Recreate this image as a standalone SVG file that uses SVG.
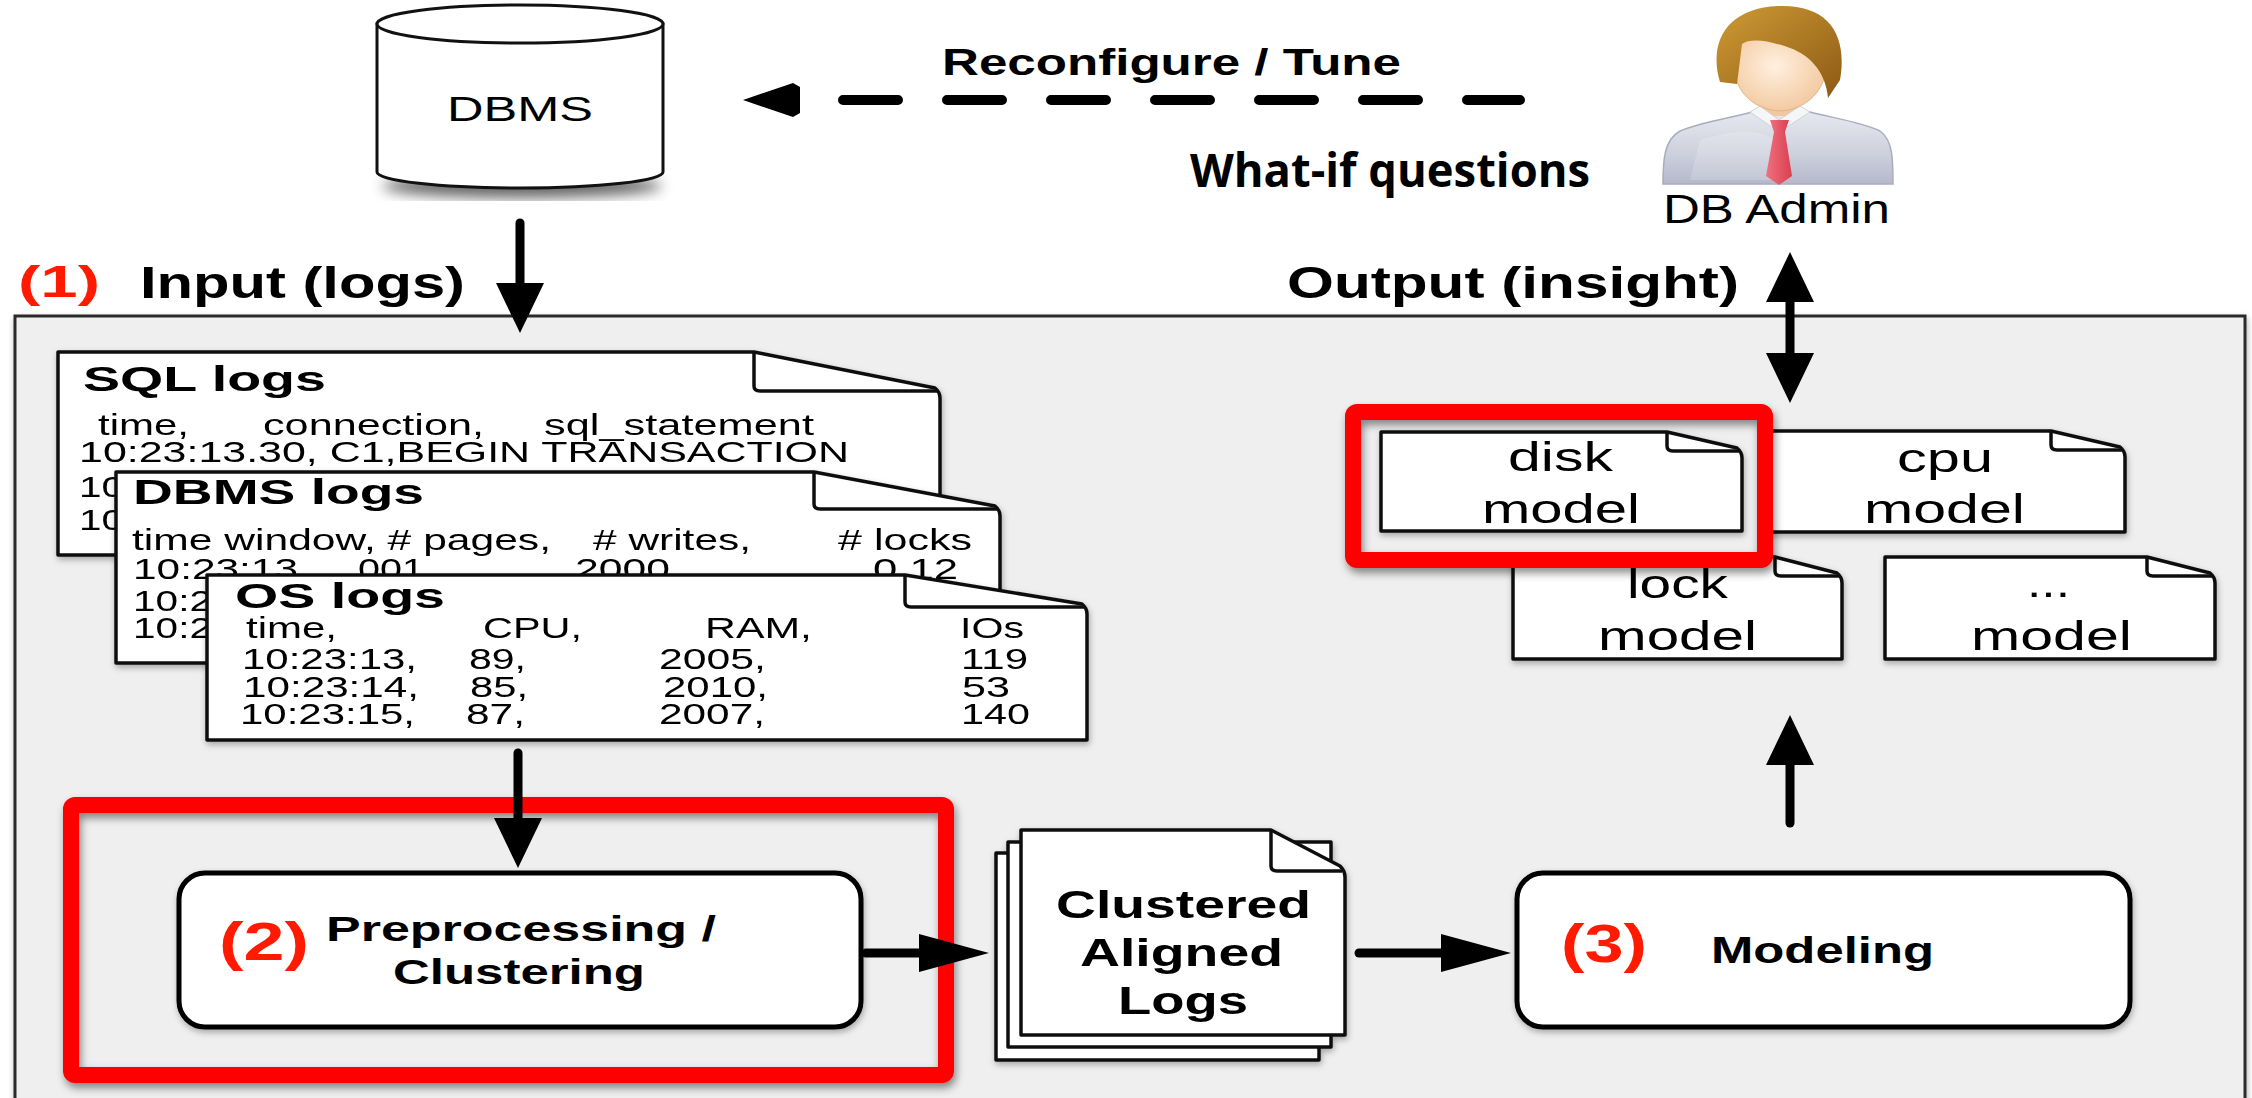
<svg xmlns="http://www.w3.org/2000/svg" width="2252" height="1098" viewBox="0 0 2252 1098">
  <style>
    text { font-family: "Liberation Sans", Arial, Helvetica, sans-serif; fill: #000; }
    .b { font-weight: bold; }
    .red { fill: #ff1a00; }
    .doc { fill: #fff; stroke: #111; stroke-width: 3.5; stroke-linejoin: round; }
    .fold { fill: none; stroke: #111; stroke-width: 3.5; stroke-linejoin: round; }
    .box { fill: #fff; stroke: #000; stroke-width: 5; }
    .hl { fill: none; stroke: #ff0000; stroke-width: 16; stroke-linejoin: round; }
    .shaft { stroke: #000; stroke-width: 9; fill: none; stroke-linecap: round; }
    .wq { font-family: "Open Sans", "Liberation Sans", sans-serif; font-weight: bold; }
  </style>
  <defs>
    <filter id="shadow" x="-10%" y="-10%" width="120%" height="130%">
      <feDropShadow dx="2" dy="5" stdDeviation="4" flood-color="#000" flood-opacity="0.45"/>
    </filter>
    <filter id="softshadow" x="-5%" y="-5%" width="110%" height="120%">
      <feDropShadow dx="1" dy="3" stdDeviation="3" flood-color="#000" flood-opacity="0.3"/>
    </filter>
    <filter id="blur8"><feGaussianBlur stdDeviation="7"/></filter>
    <marker id="vhead" markerUnits="userSpaceOnUse" viewBox="0 0 50 48" markerWidth="50" markerHeight="48" refX="30" refY="24" orient="auto-start-reverse">
      <path d="M0,0 L50,24 L0,48 Z" fill="#000"/>
    </marker>
    <marker id="hhead" markerUnits="userSpaceOnUse" viewBox="0 0 70 38" markerWidth="70" markerHeight="38" refX="50" refY="19" orient="auto">
      <path d="M0,0 L70,19 L0,38 Z" fill="#000"/>
    </marker>
    <linearGradient id="shirt" x1="0" y1="0" x2="0" y2="1">
      <stop offset="0" stop-color="#e6e8f0"/>
      <stop offset="0.55" stop-color="#cfd2de"/>
      <stop offset="1" stop-color="#b4b8ca"/>
    </linearGradient>
    <linearGradient id="hair" x1="0" y1="0" x2="1" y2="1">
      <stop offset="0" stop-color="#cf9b35"/>
      <stop offset="1" stop-color="#8c5a14"/>
    </linearGradient>
    <radialGradient id="skin" cx="0.45" cy="0.45" r="0.6">
      <stop offset="0" stop-color="#fff0e0"/>
      <stop offset="1" stop-color="#f2c79c"/>
    </radialGradient>
    <linearGradient id="tie" x1="0" y1="0" x2="1" y2="0">
      <stop offset="0" stop-color="#f07080"/>
      <stop offset="1" stop-color="#d9404f"/>
    </linearGradient>
  </defs>

  <rect width="2252" height="1098" fill="#fff"/>

  <!-- main system frame -->
  <g id="system-frame">
    <rect x="15" y="316" width="2230" height="820" fill="#efefef" stroke="#2a2a2a" stroke-width="3" filter="url(#softshadow)"/>
    <text x="18" y="297" class="b red" font-size="44" textLength="82" lengthAdjust="spacingAndGlyphs">(1)</text>
    <text x="140" y="298" class="b" font-size="44" textLength="325" lengthAdjust="spacingAndGlyphs">Input (logs)</text>
    <text x="1287" y="298" class="b" font-size="44" textLength="452" lengthAdjust="spacingAndGlyphs">Output (insight)</text>
  </g>

  <!-- database -->
  <g id="dbms">
    <ellipse cx="522" cy="186" rx="140" ry="12" fill="#000" opacity="0.6" filter="url(#blur8)"/>
    <path d="M377,24 V172 A143,16 0 0 0 663,172 V24 Z" fill="#fff" stroke="#111" stroke-width="3"/>
    <ellipse cx="520" cy="24" rx="143" ry="19" fill="#fff" stroke="#111" stroke-width="3"/>
    <text x="447" y="121" font-size="35" textLength="146" lengthAdjust="spacingAndGlyphs">DBMS</text>
  </g>

  <!-- administrator -->
  <g id="db-admin">
    <path d="M1663,184 C1663,160 1664,140 1680,131 C1700,122 1735,117 1752,112 L1810,112 C1828,117 1862,122 1880,131 C1893,140 1893,160 1893,184 Z" fill="url(#shirt)" stroke="#a9adbd" stroke-width="1.5"/>
    <path d="M1700,140 C1740,128 1760,130 1775,140 L1775,180 L1690,180 Z" fill="#fff" opacity="0.18"/>
    <rect x="1760" y="92" width="40" height="24" fill="#f2c79c"/>
    <path d="M1750,112 L1779,132 L1810,112 L1800,106 L1779,120 L1760,106 Z" fill="#f6f6f8" stroke="#d0d2da" stroke-width="1"/>
    <path d="M1733,52 C1731,82 1744,100 1762,107 Q1780,115 1798,107 C1816,99 1829,82 1827,52 C1824,22 1738,22 1733,52 Z" fill="url(#skin)" stroke="#e0b58c" stroke-width="1"/>
    <path d="M1720,82 C1708,42 1727,8 1778,6 C1828,4 1848,34 1840,80 L1828,98 C1826,74 1812,56 1790,48 C1768,40 1750,38 1742,44 L1737,84 Z" fill="url(#hair)"/>
    <path d="M1770,120 L1789,120 L1785,132 L1774,132 Z" fill="url(#tie)"/>
    <path d="M1774,132 L1785,132 L1792,176 L1779,185 L1766,176 Z" fill="url(#tie)"/>
    <text x="1663" y="223" font-size="40" textLength="227" lengthAdjust="spacingAndGlyphs">DB Admin</text>
  </g>

  <!-- log documents -->
  <g id="sql-logs" filter="url(#softshadow)">
    <path class="doc" d="M58,352 H754 L935,388 Q940,392 940,398 V555 H58 Z"/>
    <path class="fold" d="M754,352 V386 Q754,391 760,391 H937"/>
    <text x="83" y="391" class="b" font-size="35" textLength="243" lengthAdjust="spacingAndGlyphs">SQL logs</text>
    <g font-size="30">
      <text x="98" y="435" textLength="91" lengthAdjust="spacingAndGlyphs">time,</text>
      <text x="263" y="435" textLength="221" lengthAdjust="spacingAndGlyphs">connection,</text>
      <text x="544" y="435" textLength="270" lengthAdjust="spacingAndGlyphs">sql_statement</text>
      <text x="79" y="462" textLength="770" lengthAdjust="spacingAndGlyphs">10:23:13.30, C1,BEGIN TRANSACTION</text>
      <text x="79" y="497" textLength="45" lengthAdjust="spacingAndGlyphs">10</text>
      <text x="79" y="530" textLength="45" lengthAdjust="spacingAndGlyphs">10</text>
    </g>
  </g>

  <g id="dbms-logs" filter="url(#softshadow)">
    <path class="doc" d="M116,472 H814 L995,506 Q1000,510 1000,516 V663 H116 Z"/>
    <path class="fold" d="M814,472 V504 Q814,509 820,509 H997"/>
    <text x="133" y="504" class="b" font-size="35" textLength="291" lengthAdjust="spacingAndGlyphs">DBMS logs</text>
    <g font-size="30">
      <text x="132" y="550" textLength="419" lengthAdjust="spacingAndGlyphs">time window, # pages,</text>
      <text x="593" y="550" textLength="158" lengthAdjust="spacingAndGlyphs"># writes,</text>
      <text x="838" y="550" textLength="134" lengthAdjust="spacingAndGlyphs"># locks</text>
      <text x="133" y="579" textLength="165" lengthAdjust="spacingAndGlyphs">10:23:13</text>
      <text x="358" y="579" textLength="66" lengthAdjust="spacingAndGlyphs">001</text>
      <text x="575" y="579" textLength="95" lengthAdjust="spacingAndGlyphs">2000</text>
      <text x="873" y="579" textLength="85" lengthAdjust="spacingAndGlyphs">0.12</text>
      <text x="133" y="611" textLength="79" lengthAdjust="spacingAndGlyphs">10:2</text>
      <text x="133" y="638" textLength="79" lengthAdjust="spacingAndGlyphs">10:2</text>
    </g>
  </g>

  <g id="os-logs" filter="url(#softshadow)">
    <path class="doc" d="M207,575 H905 L1082,604 Q1087,608 1087,614 V740 H207 Z"/>
    <path class="fold" d="M905,575 V602 Q905,607 911,607 H1084"/>
    <text x="235" y="608" class="b" font-size="35" textLength="210" lengthAdjust="spacingAndGlyphs">OS logs</text>
    <g font-size="29">
      <text x="246" y="638" textLength="91" lengthAdjust="spacingAndGlyphs">time,</text>
      <text x="483" y="638" textLength="99" lengthAdjust="spacingAndGlyphs">CPU,</text>
      <text x="705" y="638" textLength="107" lengthAdjust="spacingAndGlyphs">RAM,</text>
      <text x="960" y="638" textLength="64" lengthAdjust="spacingAndGlyphs">IOs</text>
      <text x="242" y="669" textLength="175" lengthAdjust="spacingAndGlyphs">10:23:13,</text>
      <text x="469" y="669" textLength="57" lengthAdjust="spacingAndGlyphs">89,</text>
      <text x="659" y="669" textLength="107" lengthAdjust="spacingAndGlyphs">2005,</text>
      <text x="961" y="669" textLength="67" lengthAdjust="spacingAndGlyphs">119</text>
      <text x="243" y="697" textLength="176" lengthAdjust="spacingAndGlyphs">10:23:14,</text>
      <text x="470" y="697" textLength="58" lengthAdjust="spacingAndGlyphs">85,</text>
      <text x="663" y="697" textLength="105" lengthAdjust="spacingAndGlyphs">2010,</text>
      <text x="962" y="697" textLength="48" lengthAdjust="spacingAndGlyphs">53</text>
      <text x="240" y="724" textLength="175" lengthAdjust="spacingAndGlyphs">10:23:15,</text>
      <text x="466" y="724" textLength="59" lengthAdjust="spacingAndGlyphs">87,</text>
      <text x="659" y="724" textLength="106" lengthAdjust="spacingAndGlyphs">2007,</text>
      <text x="961" y="724" textLength="69" lengthAdjust="spacingAndGlyphs">140</text>
    </g>
  </g>

  <!-- model documents -->
  <g id="cpu-model" filter="url(#softshadow)">
    <path class="doc" d="M1765,431 H2051 L2120,447 Q2125,451 2125,457 V532 H1765 Z"/>
    <path class="fold" d="M2051,431 V445 Q2051,450 2057,450 H2122"/>
    <text x="1897" y="472" font-size="41" textLength="96" lengthAdjust="spacingAndGlyphs">cpu</text>
    <text x="1864" y="523" font-size="41" textLength="161" lengthAdjust="spacingAndGlyphs">model</text>
  </g>
  <g id="lock-model" filter="url(#softshadow)">
    <path class="doc" d="M1513,557 H1775 L1837,573 Q1842,577 1842,583 V659 H1513 Z"/>
    <path class="fold" d="M1775,557 V571 Q1775,576 1781,576 H1839"/>
    <text x="1627" y="598" font-size="41" textLength="101" lengthAdjust="spacingAndGlyphs">lock</text>
    <text x="1598" y="650" font-size="41" textLength="159" lengthAdjust="spacingAndGlyphs">model</text>
  </g>
  <g id="other-model" filter="url(#softshadow)">
    <path class="doc" d="M1885,557 H2147 L2210,573 Q2215,577 2215,583 V659 H1885 Z"/>
    <path class="fold" d="M2147,557 V571 Q2147,576 2153,576 H2212"/>
    <text x="2027" y="597" font-size="41" textLength="43" lengthAdjust="spacingAndGlyphs">...</text>
    <text x="1971" y="650" font-size="41" textLength="161" lengthAdjust="spacingAndGlyphs">model</text>
  </g>
  <g id="disk-model" filter="url(#softshadow)">
    <path class="doc" d="M1381,432 H1667 L1737,448 Q1742,452 1742,458 V531 H1381 Z"/>
    <path class="fold" d="M1667,432 V446 Q1667,451 1673,451 H1739"/>
    <text x="1508" y="471" font-size="41" textLength="105" lengthAdjust="spacingAndGlyphs">disk</text>
    <text x="1482" y="523" font-size="41" textLength="158" lengthAdjust="spacingAndGlyphs">model</text>
  </g>

  <!-- process steps -->
  <g id="preprocessing">
    <rect class="box" x="179" y="873" width="682" height="154" rx="26" filter="url(#softshadow)"/>
    <text x="219" y="960" class="b red" font-size="54" textLength="90" lengthAdjust="spacingAndGlyphs">(2)</text>
    <text x="326" y="941" class="b" font-size="35" textLength="390" lengthAdjust="spacingAndGlyphs">Preprocessing /</text>
    <text x="393" y="984" class="b" font-size="35" textLength="252" lengthAdjust="spacingAndGlyphs">Clustering</text>
  </g>

  <g id="clustered-logs" filter="url(#softshadow)">
    <rect class="doc" x="996" y="853" width="323" height="207"/>
    <rect class="doc" x="1008" y="842" width="323" height="205"/>
    <path class="doc" d="M1021,830 H1271 L1340,866 Q1345,871 1345,877 V1035 H1021 Z"/>
    <path class="fold" d="M1271,830 V866 Q1271,871 1277,871 H1342"/>
    <text x="1056" y="918" class="b" font-size="39" textLength="255" lengthAdjust="spacingAndGlyphs">Clustered</text>
    <text x="1080" y="966" class="b" font-size="39" textLength="203" lengthAdjust="spacingAndGlyphs">Aligned</text>
    <text x="1118" y="1014" class="b" font-size="39" textLength="130" lengthAdjust="spacingAndGlyphs">Logs</text>
  </g>

  <g id="modeling">
    <rect class="box" x="1517" y="873" width="613" height="154" rx="26" filter="url(#softshadow)"/>
    <text x="1561" y="962" class="b red" font-size="54" textLength="86" lengthAdjust="spacingAndGlyphs">(3)</text>
    <text x="1711" y="963" class="b" font-size="37" textLength="223" lengthAdjust="spacingAndGlyphs">Modeling</text>
  </g>

  <!-- highlight frames -->
  <g id="highlights" filter="url(#shadow)">
    <rect class="hl" x="1353" y="412" width="412" height="148" rx="4"/>
    <rect class="hl" x="71" y="805" width="875" height="270" rx="4"/>
  </g>

  <!-- connectors -->
  <g id="connectors">
    <line class="shaft" x1="520" y1="223" x2="520" y2="313" marker-end="url(#vhead)"/>
    <line class="shaft" x1="518" y1="753" x2="518" y2="848" marker-end="url(#vhead)"/>
    <line class="shaft" x1="866" y1="953" x2="969" y2="953" marker-end="url(#hhead)"/>
    <line class="shaft" x1="1359" y1="953" x2="1491" y2="953" marker-end="url(#hhead)"/>
    <line class="shaft" x1="1790" y1="823" x2="1790" y2="735" marker-end="url(#vhead)"/>
    <line class="shaft" x1="1790" y1="272" x2="1790" y2="383" marker-start="url(#vhead)" marker-end="url(#vhead)"/>
    <!-- feedback to the database -->
    <line x1="843" y1="100" x2="1520" y2="100" stroke="#000" stroke-width="10" stroke-linecap="round" stroke-dasharray="55 49"/>
    <path d="M743,100 L793,83 L800,87 L800,113 L793,117 Z" fill="#000"/>
    <text x="942" y="75" class="b" font-size="36" textLength="459" lengthAdjust="spacingAndGlyphs">Reconfigure / Tune</text>
    <text x="1190" y="187" class="wq" font-size="46" textLength="400" lengthAdjust="spacingAndGlyphs">What-if questions</text>
  </g>
</svg>
